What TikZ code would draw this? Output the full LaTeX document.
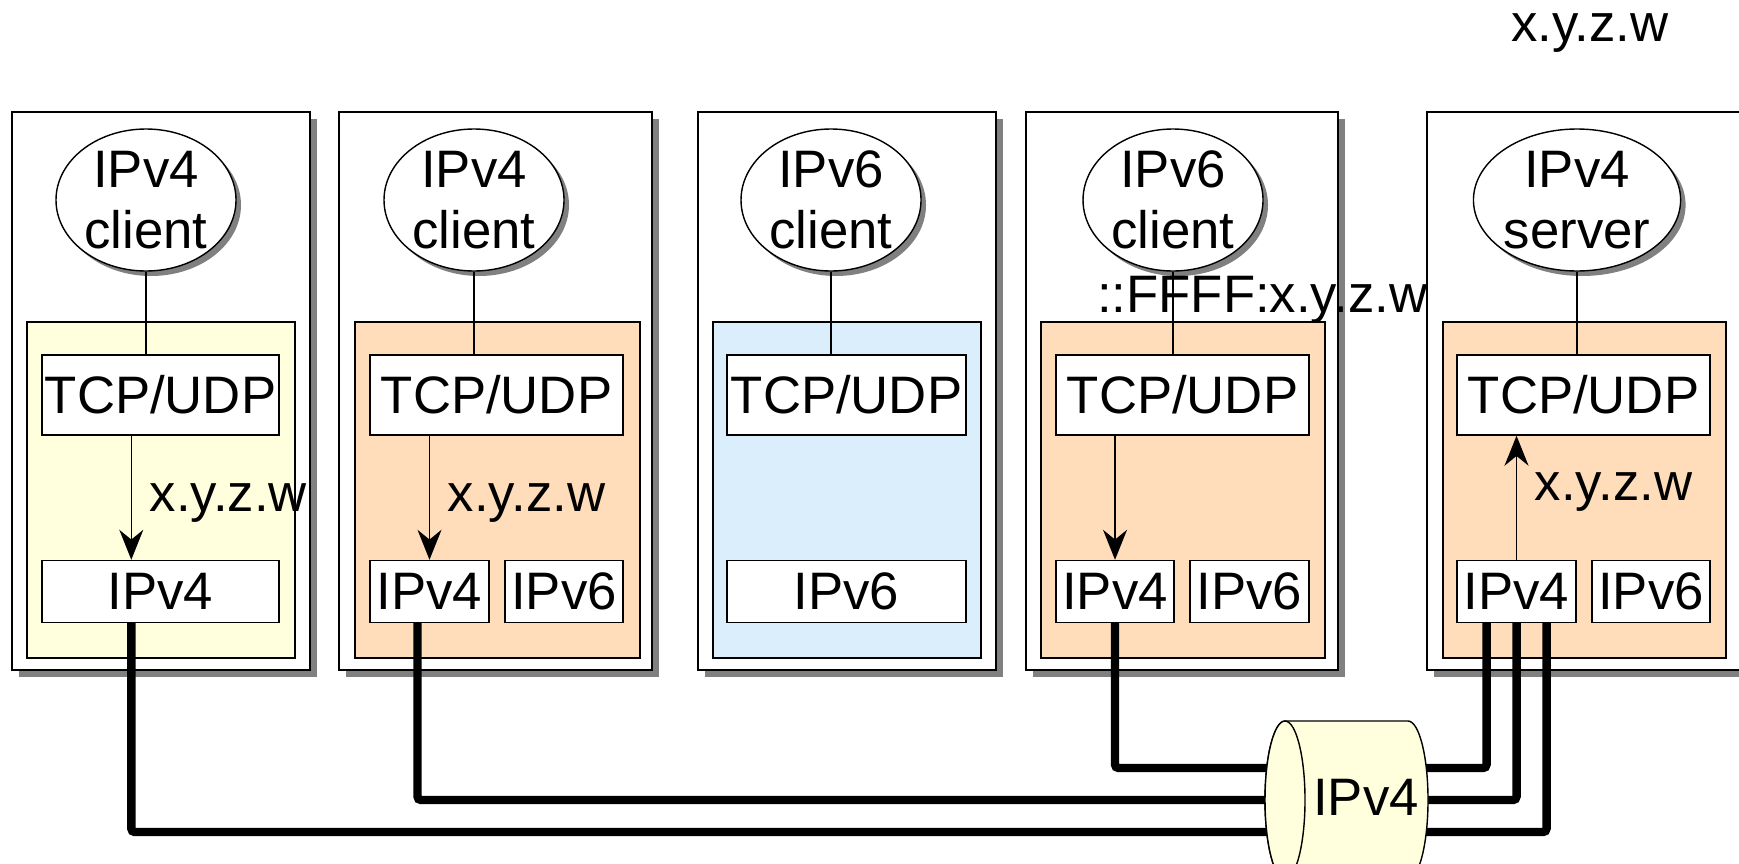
\documentclass[tikz,border=0pt]{standalone}
\usepackage{fontspec}
\setmainfont{Liberation Sans}
\usepackage{xcolor}
\usetikzlibrary{arrows.meta,shapes.geometric,shadows}

\definecolor{lightyellow}{RGB}{255,255,221}
\definecolor{peach}{RGB}{255,221,187}
\definecolor{lightblue}{RGB}{218,238,252}

\tikzset{
  every node/.style={font=\fontsize{15}{17.4}\selectfont},
  host/.style={draw=black, fill=white, drop shadow={shadow xshift=0.07cm, shadow yshift=-0.07cm, fill=gray, opacity=1}},
  app/.style={ellipse, draw, fill=white, minimum width=1.8cm, minimum height=1.42cm, inner sep=0pt, align=center, drop shadow={shadow xshift=0.05cm, shadow yshift=-0.05cm, fill=gray, opacity=1}},
  stackbox/.style={draw, fill=white, minimum height=0.8cm, inner sep=0pt},
  ipbox/.style={draw, fill=white, minimum height=0.62cm, inner sep=0pt},
  flow/.style={-{Stealth[length=0.3cm,width=0.24cm]}},
  addr/.style={right, xshift=0.6mm},
  wire/.style={line width=2.4pt, rounded corners=1pt},
  netbody/.style={draw=black, fill=lightyellow}
}

\begin{document}
\begin{tikzpicture}
\useasboundingbox (0,0) rectangle (17.39,-8.63);

\filldraw[host] (0.12,-1.12) rectangle (3.10,-6.70);
\filldraw[host] (3.39,-1.12) rectangle (6.52,-6.70);
\filldraw[host] (6.98,-1.12) rectangle (9.96,-6.70);
\filldraw[host] (10.26,-1.12) rectangle (13.38,-6.70);
\filldraw[host] (14.27,-1.12) rectangle (18.00,-6.70);

\filldraw[draw=black, fill=lightyellow] (0.27,-3.22) rectangle (2.95,-6.58);
\filldraw[draw=black, fill=peach] (3.55,-3.22) rectangle (6.40,-6.58);
\filldraw[draw=black, fill=lightblue] (7.13,-3.22) rectangle (9.81,-6.58);
\filldraw[draw=black, fill=peach] (10.41,-3.22) rectangle (13.25,-6.58);
\filldraw[draw=black, fill=peach] (14.43,-3.22) rectangle (17.26,-6.58);

\node[app] (cla) at (1.46,-2.00) {IPv4\\client};
\node[app] (clb) at (4.74,-2.00) {IPv4\\client};
\node[app] (clc) at (8.31,-2.00) {IPv6\\client};
\node[app] (cld) at (11.73,-2.00) {IPv6\\client};
\node[app] (srv) at (15.77,-2.00) {IPv4\\server};

\node (mapped) at (12.62,-3.00) {::FFFF:x.y.z.w};
\node (srvaddr) at (15.90,-0.33) {x.y.z.w};

\node[stackbox, minimum width=2.37cm] (tcpa) at (1.605,-3.95) {TCP/UDP};
\node[stackbox, minimum width=2.53cm] (tcpb) at (4.965,-3.95) {TCP/UDP};
\node[stackbox, minimum width=2.39cm] (tcpc) at (8.465,-3.95) {TCP/UDP};
\node[stackbox, minimum width=2.53cm] (tcpd) at (11.825,-3.95) {TCP/UDP};
\node[stackbox, minimum width=2.53cm] (tcpe) at (15.835,-3.95) {TCP/UDP};

\node[ipbox, minimum width=2.37cm] (v4a) at (1.605,-5.915) {IPv4};
\node[ipbox, minimum width=1.19cm] (v4b) at (4.295,-5.915) {IPv4};
\node[ipbox, minimum width=1.18cm] (v6b) at (5.64,-5.915) {IPv6};
\node[ipbox, minimum width=2.39cm] (v6c) at (8.465,-5.915) {IPv6};
\node[ipbox, minimum width=1.18cm] (v4d) at (11.15,-5.915) {IPv4};
\node[ipbox, minimum width=1.19cm] (v6d) at (12.495,-5.915) {IPv6};
\node[ipbox, minimum width=1.19cm] (v4e) at (15.165,-5.915) {IPv4};
\node[ipbox, minimum width=1.18cm] (v6e) at (16.51,-5.915) {IPv6};

\draw (cla.south) -- (cla.south |- tcpa.north);
\draw (clb.south) -- (clb.south |- tcpb.north);
\draw (clc.south) -- (clc.south |- tcpc.north);
\draw (cld.south) -- (cld.south |- tcpd.north);
\draw (srv.south) -- (srv.south |- tcpe.north);

\draw[flow] ([xshift=9mm]tcpa.south west) -- node[addr, pos=0.54] {x.y.z.w} ([xshift=9mm]v4a.north west);
\draw[flow] (tcpb.south -| v4b.north) -- node[addr, pos=0.54] {x.y.z.w} (v4b.north);
\draw[flow] (tcpd.south -| v4d.north) -- (v4d.north);
\draw[flow] (v4e.north) -- node[addr, pos=0.55] {x.y.z.w} (tcpe.south -| v4e.north);

\coordinate (bus1) at (13.50,-7.68);
\coordinate (bus2) at (13.50,-8.00);
\coordinate (bus3) at (13.50,-8.32);
\draw[wire] ([xshift=9mm]v4a.south west) |- (bus3) -| ([xshift=3mm]v4e.south);
\draw[wire] ([xshift=-1.2mm]v4b.south) |- (bus2) -| (v4e.south);
\draw[wire] (v4d.south) |- (bus1) -| ([xshift=-3mm]v4e.south);

\filldraw[netbody] (12.85,-7.21) -- (14.08,-7.21) arc[start angle=90, end angle=-90, x radius=0.2, y radius=0.79] -- (12.85,-8.79) arc[start angle=270, end angle=90, x radius=0.2, y radius=0.79] -- cycle;
\filldraw[netbody] (12.85,-8.00) ellipse[x radius=0.2, y radius=0.79];
\node (net) at (13.66,-7.97) {IPv4};
\end{tikzpicture}
\end{document}
